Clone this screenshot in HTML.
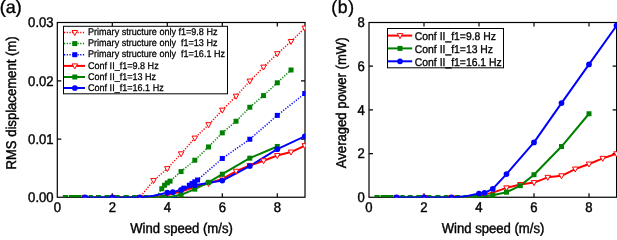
<!DOCTYPE html>
<html><head><meta charset="utf-8"><style>
html,body{margin:0;padding:0;background:#fff;width:617px;height:236px;overflow:hidden}
svg{display:block;will-change:transform}
text{font-family:"Liberation Sans",sans-serif;fill:#000;stroke:#000;text-rendering:geometricPrecision}
.t{font-size:13.1px;stroke-width:0.4px}
.pa{font-size:17.9px;stroke-width:0.35px;letter-spacing:0.1px}
.p{font-size:17.6px;stroke-width:0.35px;letter-spacing:0.6px}
.lg{font-size:9.05px;stroke-width:0.25px}
.rg{font-size:10.4px;stroke-width:0.3px}
</style></head><body>
<svg width="617" height="236" viewBox="0 0 617 236">
<defs>
<clipPath id="clipL"><rect x="57.3" y="22.5" width="247.7" height="175.3"/></clipPath>
<clipPath id="clipR"><rect x="369" y="22.5" width="248" height="175.3"/></clipPath>
<clipPath id="clipML"><rect x="57" y="22" width="248.4" height="175.8"/></clipPath>
<clipPath id="clipMR"><rect x="369" y="22" width="248" height="175.8"/></clipPath>
</defs>
<rect x="57.30" y="22.50" width="247.70" height="174.75" fill="none" stroke="#000" stroke-width="1.2"/>
<path d="M112.30,197.25 v-4 M112.30,22.5 v4" stroke="#000" stroke-width="1.2"/>
<text transform="translate(112.30,212.10) scale(1,1.08)" text-anchor="middle" class="t" xml:space="preserve">2</text>
<path d="M167.30,197.25 v-4 M167.30,22.5 v4" stroke="#000" stroke-width="1.2"/>
<text transform="translate(167.30,212.10) scale(1,1.08)" text-anchor="middle" class="t" xml:space="preserve">4</text>
<path d="M222.30,197.25 v-4 M222.30,22.5 v4" stroke="#000" stroke-width="1.2"/>
<text transform="translate(222.30,212.10) scale(1,1.08)" text-anchor="middle" class="t" xml:space="preserve">6</text>
<path d="M277.30,197.25 v-4 M277.30,22.5 v4" stroke="#000" stroke-width="1.2"/>
<text transform="translate(277.30,212.10) scale(1,1.08)" text-anchor="middle" class="t" xml:space="preserve">8</text>
<text transform="translate(57.30,212.10) scale(1,1.08)" text-anchor="middle" class="t" xml:space="preserve">0</text>
<text transform="translate(53.60,202.05) scale(1,1.08)" text-anchor="end" class="t" xml:space="preserve">0.00</text>
<path d="M57.3,139.05 h4 M305.00,139.05 h-4" stroke="#000" stroke-width="1.2"/>
<text transform="translate(53.60,143.85) scale(1,1.08)" text-anchor="end" class="t" xml:space="preserve">0.01</text>
<path d="M57.3,80.85 h4 M305.00,80.85 h-4" stroke="#000" stroke-width="1.2"/>
<text transform="translate(53.60,85.65) scale(1,1.08)" text-anchor="end" class="t" xml:space="preserve">0.02</text>
<text transform="translate(53.60,27.45) scale(1,1.08)" text-anchor="end" class="t" xml:space="preserve">0.03</text>
<rect x="369.00" y="22.50" width="247.60" height="174.75" fill="none" stroke="#000" stroke-width="1.2"/>
<path d="M424.00,197.25 v-4 M424.00,22.5 v4" stroke="#000" stroke-width="1.2"/>
<text transform="translate(424.00,212.10) scale(1,1.08)" text-anchor="middle" class="t" xml:space="preserve">2</text>
<path d="M479.00,197.25 v-4 M479.00,22.5 v4" stroke="#000" stroke-width="1.2"/>
<text transform="translate(479.00,212.10) scale(1,1.08)" text-anchor="middle" class="t" xml:space="preserve">4</text>
<path d="M534.00,197.25 v-4 M534.00,22.5 v4" stroke="#000" stroke-width="1.2"/>
<text transform="translate(534.00,212.10) scale(1,1.08)" text-anchor="middle" class="t" xml:space="preserve">6</text>
<path d="M589.00,197.25 v-4 M589.00,22.5 v4" stroke="#000" stroke-width="1.2"/>
<text transform="translate(589.00,212.10) scale(1,1.08)" text-anchor="middle" class="t" xml:space="preserve">8</text>
<text transform="translate(369.00,212.10) scale(1,1.08)" text-anchor="middle" class="t" xml:space="preserve">0</text>
<text transform="translate(364.80,202.05) scale(1,1.08)" text-anchor="end" class="t" xml:space="preserve">0</text>
<path d="M369.0,153.55 h4 M616.60,153.55 h-4" stroke="#000" stroke-width="1.2"/>
<text transform="translate(364.80,158.35) scale(1,1.08)" text-anchor="end" class="t" xml:space="preserve">2</text>
<path d="M369.0,109.85 h4 M616.60,109.85 h-4" stroke="#000" stroke-width="1.2"/>
<text transform="translate(364.80,114.65) scale(1,1.08)" text-anchor="end" class="t" xml:space="preserve">4</text>
<path d="M369.0,66.15 h4 M616.60,66.15 h-4" stroke="#000" stroke-width="1.2"/>
<text transform="translate(364.80,70.95) scale(1,1.08)" text-anchor="end" class="t" xml:space="preserve">6</text>
<text transform="translate(364.80,27.25) scale(1,1.08)" text-anchor="end" class="t" xml:space="preserve">8</text>
<g clip-path="url(#clipL)">
<path d="M84.80,197.45 L139.80,197.45 L153.55,180.57 L167.30,168.64 L181.05,153.80 L194.80,138.09 L208.55,124.70 L222.30,110.15 L236.05,96.18 L249.80,81.05 L263.55,67.08 L277.30,53.70 L291.05,41.47 L304.80,28.09" fill="none" stroke="#ff0000" stroke-width="1.5" stroke-dasharray="1.2 1.5"/>
<path d="M84.80,197.45 L156.30,197.45 L161.80,188.72 L164.55,185.23 L167.30,182.90 L170.05,181.15 L181.05,171.55 L194.80,160.20 L208.55,146.93 L222.30,132.85 L236.05,121.21 L249.80,107.24 L263.55,95.60 L277.30,82.80 L291.05,69.99" fill="none" stroke="#008000" stroke-width="1.5" stroke-dasharray="1.2 1.5"/>
<path d="M84.80,197.45 L175.55,197.45 L183.80,188.14 L189.30,185.23 L192.05,183.48 L194.80,181.74 L197.55,179.99 L222.30,158.46 L249.80,139.25 L277.30,115.39 L304.80,93.50" fill="none" stroke="#0000ff" stroke-width="1.5" stroke-dasharray="1.2 1.5"/>
<path d="M84.80,197.45 L153.55,197.45 L167.30,195.12 L181.05,191.63 L194.80,186.97 L208.55,183.48 L222.30,178.83 L236.05,171.26 L249.80,165.44 L263.55,160.78 L277.30,155.55 L291.05,152.05 L304.80,145.65" fill="none" stroke="#ff0000" stroke-width="2" stroke-linejoin="round"/>
<path d="M62.80,196.1 H68.02" stroke="#008000" stroke-width="2.2"/>
<path d="M68.85,196.1 H81.50" stroke="#008000" stroke-width="2.2"/>
<path d="M88.65,196.1 H93.05" stroke="#008000" stroke-width="2.2"/>
<path d="M96.07,196.1 H101.03" stroke="#008000" stroke-width="2.2"/>
<path d="M104.60,196.1 H109.27" stroke="#008000" stroke-width="2.2"/>
<path d="M114.50,196.1 H119.72" stroke="#008000" stroke-width="2.2"/>
<path d="M123.58,196.1 H128.80" stroke="#008000" stroke-width="2.2"/>
<path d="M132.10,196.1 H136.78" stroke="#008000" stroke-width="2.2"/>
<path d="M143.38,196.1 H148.32" stroke="#008000" stroke-width="2.2"/>
<path d="M151.90,196.1 H156.85" stroke="#008000" stroke-width="2.2"/>
<path d="M160.43,196.1 H165.93" stroke="#008000" stroke-width="2.2"/>
<path d="M84.80,197.45 L167.30,197.45 L181.05,194.83 L194.80,189.13 L208.55,182.32 L222.30,174.17 L249.80,158.16 L277.30,146.47" fill="none" stroke="#008000" stroke-width="2" stroke-linejoin="round"/>
<path d="M84.80,197.45 L139.80,197.45 L153.55,195.70 L167.30,192.68 L172.80,192.21 L181.05,189.88 L194.80,185.23 L222.30,180.57 L249.80,166.02 L277.30,149.14 L304.80,136.34" fill="none" stroke="#0000ff" stroke-width="2" stroke-linejoin="round"/>
</g>
<g clip-path="url(#clipML)">
<path d="M82.05,195.45 L87.55,195.45 L84.80,200.45 Z" fill="#fff" stroke="#ff0000" stroke-width="1"/>
<path d="M109.55,195.45 L115.05,195.45 L112.30,200.45 Z" fill="#fff" stroke="#ff0000" stroke-width="1"/>
<path d="M137.05,195.45 L142.55,195.45 L139.80,200.45 Z" fill="#fff" stroke="#ff0000" stroke-width="1"/>
<path d="M150.80,178.57 L156.30,178.57 L153.55,183.57 Z" fill="#fff" stroke="#ff0000" stroke-width="1"/>
<path d="M164.55,166.64 L170.05,166.64 L167.30,171.64 Z" fill="#fff" stroke="#ff0000" stroke-width="1"/>
<path d="M178.30,151.80 L183.80,151.80 L181.05,156.80 Z" fill="#fff" stroke="#ff0000" stroke-width="1"/>
<path d="M192.05,136.09 L197.55,136.09 L194.80,141.09 Z" fill="#fff" stroke="#ff0000" stroke-width="1"/>
<path d="M205.80,122.70 L211.30,122.70 L208.55,127.70 Z" fill="#fff" stroke="#ff0000" stroke-width="1"/>
<path d="M219.55,108.15 L225.05,108.15 L222.30,113.15 Z" fill="#fff" stroke="#ff0000" stroke-width="1"/>
<path d="M233.30,94.18 L238.80,94.18 L236.05,99.18 Z" fill="#fff" stroke="#ff0000" stroke-width="1"/>
<path d="M247.05,79.05 L252.55,79.05 L249.80,84.05 Z" fill="#fff" stroke="#ff0000" stroke-width="1"/>
<path d="M260.80,65.08 L266.30,65.08 L263.55,70.08 Z" fill="#fff" stroke="#ff0000" stroke-width="1"/>
<path d="M274.55,51.70 L280.05,51.70 L277.30,56.70 Z" fill="#fff" stroke="#ff0000" stroke-width="1"/>
<path d="M288.30,39.47 L293.80,39.47 L291.05,44.47 Z" fill="#fff" stroke="#ff0000" stroke-width="1"/>
<path d="M302.05,26.09 L307.55,26.09 L304.80,31.09 Z" fill="#fff" stroke="#ff0000" stroke-width="1"/>
<rect x="159.30" y="186.22" width="5.0" height="5.0" fill="#008000"/>
<rect x="162.05" y="182.73" width="5.0" height="5.0" fill="#008000"/>
<rect x="164.80" y="180.40" width="5.0" height="5.0" fill="#008000"/>
<rect x="167.55" y="178.65" width="5.0" height="5.0" fill="#008000"/>
<rect x="178.55" y="169.05" width="5.0" height="5.0" fill="#008000"/>
<rect x="192.30" y="157.70" width="5.0" height="5.0" fill="#008000"/>
<rect x="206.05" y="144.43" width="5.0" height="5.0" fill="#008000"/>
<rect x="219.80" y="130.35" width="5.0" height="5.0" fill="#008000"/>
<rect x="233.55" y="118.71" width="5.0" height="5.0" fill="#008000"/>
<rect x="247.30" y="104.74" width="5.0" height="5.0" fill="#008000"/>
<rect x="261.05" y="93.10" width="5.0" height="5.0" fill="#008000"/>
<rect x="274.80" y="80.30" width="5.0" height="5.0" fill="#008000"/>
<rect x="288.55" y="67.49" width="5.0" height="5.0" fill="#008000"/>
<rect x="181.30" y="185.64" width="5.0" height="5.0" fill="#0000ff"/>
<rect x="186.80" y="182.73" width="5.0" height="5.0" fill="#0000ff"/>
<rect x="189.55" y="180.98" width="5.0" height="5.0" fill="#0000ff"/>
<rect x="192.30" y="179.24" width="5.0" height="5.0" fill="#0000ff"/>
<rect x="195.05" y="177.49" width="5.0" height="5.0" fill="#0000ff"/>
<rect x="219.80" y="155.96" width="5.0" height="5.0" fill="#0000ff"/>
<rect x="247.30" y="136.75" width="5.0" height="5.0" fill="#0000ff"/>
<rect x="274.80" y="112.89" width="5.0" height="5.0" fill="#0000ff"/>
<rect x="302.30" y="91.00" width="5.0" height="5.0" fill="#0000ff"/>
<path d="M178.30,189.63 L183.80,189.63 L181.05,194.63 Z" fill="#fff" stroke="#ff0000" stroke-width="1"/>
<path d="M192.05,184.97 L197.55,184.97 L194.80,189.97 Z" fill="#fff" stroke="#ff0000" stroke-width="1"/>
<path d="M205.80,181.48 L211.30,181.48 L208.55,186.48 Z" fill="#fff" stroke="#ff0000" stroke-width="1"/>
<path d="M219.55,176.83 L225.05,176.83 L222.30,181.83 Z" fill="#fff" stroke="#ff0000" stroke-width="1"/>
<path d="M233.30,169.26 L238.80,169.26 L236.05,174.26 Z" fill="#fff" stroke="#ff0000" stroke-width="1"/>
<path d="M247.05,163.44 L252.55,163.44 L249.80,168.44 Z" fill="#fff" stroke="#ff0000" stroke-width="1"/>
<path d="M260.80,158.78 L266.30,158.78 L263.55,163.78 Z" fill="#fff" stroke="#ff0000" stroke-width="1"/>
<path d="M274.55,153.55 L280.05,153.55 L277.30,158.55 Z" fill="#fff" stroke="#ff0000" stroke-width="1"/>
<path d="M288.30,150.05 L293.80,150.05 L291.05,155.05 Z" fill="#fff" stroke="#ff0000" stroke-width="1"/>
<path d="M302.05,143.65 L307.55,143.65 L304.80,148.65 Z" fill="#fff" stroke="#ff0000" stroke-width="1"/>
<rect x="178.55" y="192.33" width="5.0" height="5.0" fill="#008000"/>
<rect x="192.30" y="186.63" width="5.0" height="5.0" fill="#008000"/>
<rect x="206.05" y="179.82" width="5.0" height="5.0" fill="#008000"/>
<rect x="219.80" y="171.67" width="5.0" height="5.0" fill="#008000"/>
<rect x="247.30" y="155.66" width="5.0" height="5.0" fill="#008000"/>
<rect x="274.80" y="143.97" width="5.0" height="5.0" fill="#008000"/>
<circle cx="84.80" cy="197.45" r="2.85" fill="#0000ff"/>
<circle cx="112.30" cy="197.45" r="2.85" fill="#0000ff"/>
<circle cx="139.80" cy="197.45" r="2.85" fill="#0000ff"/>
<circle cx="167.30" cy="192.68" r="2.85" fill="#0000ff"/>
<circle cx="172.80" cy="192.21" r="2.85" fill="#0000ff"/>
<circle cx="181.05" cy="189.88" r="2.85" fill="#0000ff"/>
<circle cx="194.80" cy="185.23" r="2.85" fill="#0000ff"/>
<circle cx="222.30" cy="180.57" r="2.85" fill="#0000ff"/>
<circle cx="249.80" cy="166.02" r="2.85" fill="#0000ff"/>
<circle cx="277.30" cy="149.14" r="2.85" fill="#0000ff"/>
<circle cx="304.80" cy="136.34" r="2.85" fill="#0000ff"/>
</g>
<g clip-path="url(#clipR)">
<path d="M396.50,197.45 L465.25,197.45 L479.00,195.70 L492.75,192.64 L506.50,187.84 L520.25,184.56 L534.00,182.59 L547.75,177.35 L561.50,175.82 L575.25,169.04 L589.00,164.02 L602.75,158.34 L616.50,153.75" fill="none" stroke="#ff0000" stroke-width="2" stroke-linejoin="round"/>
<path d="M374.50,196.1 H379.73" stroke="#008000" stroke-width="2.2"/>
<path d="M380.55,196.1 H393.20" stroke="#008000" stroke-width="2.2"/>
<path d="M400.35,196.1 H404.75" stroke="#008000" stroke-width="2.2"/>
<path d="M407.77,196.1 H412.73" stroke="#008000" stroke-width="2.2"/>
<path d="M416.30,196.1 H420.98" stroke="#008000" stroke-width="2.2"/>
<path d="M426.20,196.1 H431.43" stroke="#008000" stroke-width="2.2"/>
<path d="M435.27,196.1 H440.50" stroke="#008000" stroke-width="2.2"/>
<path d="M443.80,196.1 H448.48" stroke="#008000" stroke-width="2.2"/>
<path d="M455.07,196.1 H460.02" stroke="#008000" stroke-width="2.2"/>
<path d="M463.60,196.1 H468.55" stroke="#008000" stroke-width="2.2"/>
<path d="M472.12,196.1 H477.62" stroke="#008000" stroke-width="2.2"/>
<path d="M396.50,197.45 L479.00,197.01 L492.75,195.26 L506.50,192.21 L520.25,185.65 L534.00,174.73 L561.50,146.54 L589.00,113.76" fill="none" stroke="#008000" stroke-width="2" stroke-linejoin="round"/>
<path d="M396.50,197.45 L451.50,197.45 L465.25,196.36 L479.00,193.52 L484.50,192.86 L492.75,188.93 L506.50,174.07 L534.00,142.39 L561.50,103.06 L589.00,64.38 L616.50,25.71" fill="none" stroke="#0000ff" stroke-width="2" stroke-linejoin="round"/>
</g>
<g clip-path="url(#clipMR)">
<path d="M393.75,195.45 L399.25,195.45 L396.50,200.45 Z" fill="#fff" stroke="#ff0000" stroke-width="1"/>
<path d="M421.25,195.45 L426.75,195.45 L424.00,200.45 Z" fill="#fff" stroke="#ff0000" stroke-width="1"/>
<path d="M448.75,195.45 L454.25,195.45 L451.50,200.45 Z" fill="#fff" stroke="#ff0000" stroke-width="1"/>
<path d="M503.75,185.84 L509.25,185.84 L506.50,190.84 Z" fill="#fff" stroke="#ff0000" stroke-width="1"/>
<path d="M517.50,182.56 L523.00,182.56 L520.25,187.56 Z" fill="#fff" stroke="#ff0000" stroke-width="1"/>
<path d="M531.25,180.59 L536.75,180.59 L534.00,185.59 Z" fill="#fff" stroke="#ff0000" stroke-width="1"/>
<path d="M545.00,175.35 L550.50,175.35 L547.75,180.35 Z" fill="#fff" stroke="#ff0000" stroke-width="1"/>
<path d="M558.75,173.82 L564.25,173.82 L561.50,178.82 Z" fill="#fff" stroke="#ff0000" stroke-width="1"/>
<path d="M572.50,167.04 L578.00,167.04 L575.25,172.04 Z" fill="#fff" stroke="#ff0000" stroke-width="1"/>
<path d="M586.25,162.02 L591.75,162.02 L589.00,167.02 Z" fill="#fff" stroke="#ff0000" stroke-width="1"/>
<path d="M600.00,156.34 L605.50,156.34 L602.75,161.34 Z" fill="#fff" stroke="#ff0000" stroke-width="1"/>
<path d="M613.75,151.75 L619.25,151.75 L616.50,156.75 Z" fill="#fff" stroke="#ff0000" stroke-width="1"/>
<rect x="490.25" y="192.76" width="5.0" height="5.0" fill="#008000"/>
<rect x="504.00" y="189.71" width="5.0" height="5.0" fill="#008000"/>
<rect x="517.75" y="183.15" width="5.0" height="5.0" fill="#008000"/>
<rect x="531.50" y="172.23" width="5.0" height="5.0" fill="#008000"/>
<rect x="559.00" y="144.04" width="5.0" height="5.0" fill="#008000"/>
<rect x="586.50" y="111.26" width="5.0" height="5.0" fill="#008000"/>
<circle cx="396.50" cy="197.45" r="2.85" fill="#0000ff"/>
<circle cx="424.00" cy="197.45" r="2.85" fill="#0000ff"/>
<circle cx="451.50" cy="197.45" r="2.85" fill="#0000ff"/>
<circle cx="479.00" cy="193.52" r="2.85" fill="#0000ff"/>
<circle cx="484.50" cy="192.86" r="2.85" fill="#0000ff"/>
<circle cx="492.75" cy="188.93" r="2.85" fill="#0000ff"/>
<circle cx="506.50" cy="174.07" r="2.85" fill="#0000ff"/>
<circle cx="534.00" cy="142.39" r="2.85" fill="#0000ff"/>
<circle cx="561.50" cy="103.06" r="2.85" fill="#0000ff"/>
<circle cx="589.00" cy="64.38" r="2.85" fill="#0000ff"/>
<circle cx="616.50" cy="25.71" r="2.85" fill="#0000ff"/>
</g>
<text transform="translate(181.50,232.60) scale(1,1.08)" text-anchor="middle" class="t" xml:space="preserve">Wind speed (m/s)</text>
<text transform="translate(493.00,232.60) scale(1,1.08)" text-anchor="middle" class="t" xml:space="preserve">Wind speed (m/s)</text>
<text transform="translate(16.10,103.00) rotate(-90) scale(1,1.08)" text-anchor="middle" class="t" xml:space="preserve">RMS displacement (m)</text>
<text transform="translate(346.30,102.80) rotate(-90) scale(1,1.08)" text-anchor="middle" class="t" xml:space="preserve">Averaged power (mW)</text>
<text transform="translate(-0.30,12.70) scale(1,1.0)" class="pa" xml:space="preserve">(a)</text>
<text transform="translate(331.30,12.70) scale(1,1.0)" class="p" xml:space="preserve">(b)</text>
<rect x="63.5" y="26.3" width="164" height="67.5" fill="#fff" stroke="#000" stroke-width="1"/>
<path d="M64,32.5 H85" stroke="#ff0000" stroke-width="1.5" stroke-dasharray="1.2 1.5"/>
<path d="M72.05,30.50 L77.55,30.50 L74.80,35.50 Z" fill="#fff" stroke="#ff0000" stroke-width="1"/>
<text transform="translate(88.00,35.10) scale(1,1.08)" class="lg" xml:space="preserve">Primary structure only f1=9.8 Hz</text>
<path d="M64,43.6 H85" stroke="#008000" stroke-width="1.5" stroke-dasharray="1.2 1.5"/>
<rect x="72.30" y="41.10" width="5.0" height="5.0" fill="#008000"/>
<text transform="translate(88.00,46.20) scale(1,1.08)" class="lg" xml:space="preserve">Primary structure only  f1=13 Hz</text>
<path d="M64,54.7 H85" stroke="#0000ff" stroke-width="1.5" stroke-dasharray="1.2 1.5"/>
<rect x="72.30" y="52.20" width="5.0" height="5.0" fill="#0000ff"/>
<text transform="translate(88.00,57.30) scale(1,1.08)" class="lg" xml:space="preserve">Primary structure only  f1=16.1 Hz</text>
<path d="M64,65.9 H85" stroke="#ff0000" stroke-width="2"/>
<path d="M72.05,63.90 L77.55,63.90 L74.80,68.90 Z" fill="#fff" stroke="#ff0000" stroke-width="1"/>
<text transform="translate(88.00,68.50) scale(1,1.08)" class="lg" xml:space="preserve">Conf II_f1=9.8 Hz</text>
<path d="M64,77.0 H85" stroke="#008000" stroke-width="2"/>
<rect x="72.30" y="74.50" width="5.0" height="5.0" fill="#008000"/>
<text transform="translate(88.00,79.60) scale(1,1.08)" class="lg" xml:space="preserve">Conf II_f1=13 Hz</text>
<path d="M64,88.0 H85" stroke="#0000ff" stroke-width="2"/>
<circle cx="74.80" cy="88.00" r="2.85" fill="#0000ff"/>
<text transform="translate(88.00,90.60) scale(1,1.08)" class="lg" xml:space="preserve">Conf II_f1=16.1 Hz</text>
<rect x="387.5" y="28.5" width="116" height="39.3" fill="#fff" stroke="#000" stroke-width="1"/>
<path d="M388,35.6 H412.2" stroke="#ff0000" stroke-width="2"/>
<path d="M397.25,33.60 L402.75,33.60 L400.00,38.60 Z" fill="#fff" stroke="#ff0000" stroke-width="1"/>
<text transform="translate(414.80,39.80) scale(1,1.08)" class="rg" xml:space="preserve">Conf II_f1=9.8 Hz</text>
<path d="M388,48.4 H412.2" stroke="#008000" stroke-width="2"/>
<rect x="397.50" y="45.90" width="5.0" height="5.0" fill="#008000"/>
<text transform="translate(414.80,52.60) scale(1,1.08)" class="rg" xml:space="preserve">Conf II_f1=13 Hz</text>
<path d="M388,61.3 H412.2" stroke="#0000ff" stroke-width="2"/>
<circle cx="400.00" cy="61.30" r="2.85" fill="#0000ff"/>
<text transform="translate(414.80,65.50) scale(1,1.08)" class="rg" xml:space="preserve">Conf II_f1=16.1 Hz</text>
</svg>
</body></html>
